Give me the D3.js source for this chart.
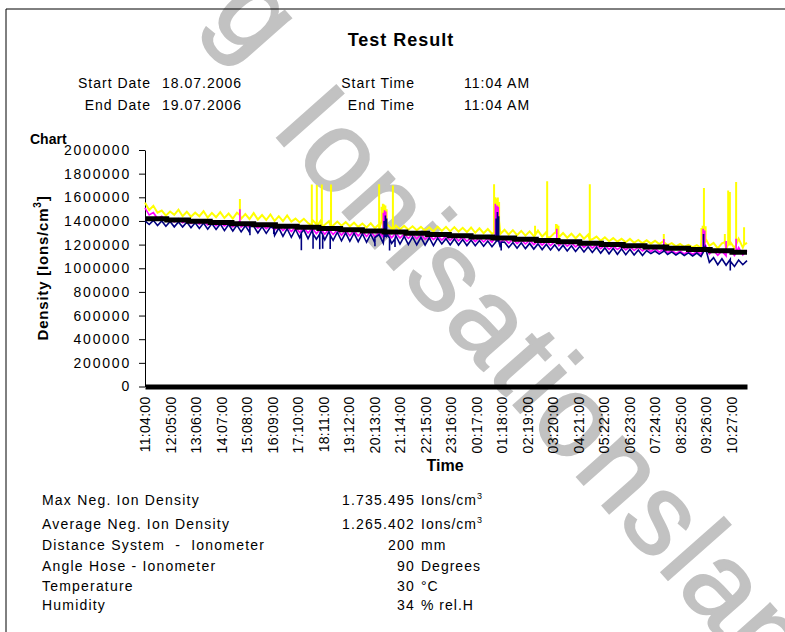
<!DOCTYPE html>
<html>
<head>
<meta charset="utf-8">
<script src="https://cdn.jsdelivr.net/npm/d3@7"></script>
<style>
body { margin: 0; background: #fff; }
svg text { font-family: Arial, "Liberation Sans", sans-serif; fill: #000; white-space: pre; }
</style>
</head>
<body>
<svg id="chart" width="785" height="632"></svg>
<script>
// series are sampled every 10 minutes from 11:04 (values in thousand ions/cm3)
var sampleStep = 10;

var yellowVals = [
  1555,1492,1528,1470,1488,1445,1480,1452,1495,1440,
  1478,1436,1470,1440,1482,1428,1468,1432,1475,1425,
  1462,1420,1470,1418,1458,1415,1466,1412,1450,1408,
  1455,1400,1440,1398,1446,1395,1420,1388,1418,1382,
  1410,1372,1402,1368,1398,1362,1395,1360,1390,1355,
  1385,1350,1378,1345,1380,1340,1372,1338,1368,1335,
  1362,1330,1358,1326,1355,1322,1350,1318,1346,1312,
  1352,1316,1350,1312,1348,1310,1342,1306,1345,1300,
  1338,1296,1332,1292,1330,1290,1325,1285,1322,1280,
  1316,1276,1312,1272,1318,1268,1306,1265,1300,1262,
  1298,1258,1292,1254,1290,1250,1284,1245,1268,1232,
  1262,1228,1255,1225,1250,1220,1248,1216,1240,1212,
  1236,1208,1232,1204,1228,1196,1212,1186,1205,1182,
  1198,1176,1195,1172,1230,1190,1215,1168,1210,1165,
  1222,1170,1250,1175,1215
];
var magentaVals = [
  1510,1450,1470,1420,1440,1400,1415,1392,1420,1385,
  1405,1378,1400,1372,1396,1365,1392,1360,1388,1358,
  1384,1350,1380,1348,1375,1344,1372,1338,1368,1335,
  1362,1322,1360,1318,1352,1310,1348,1302,1345,1298,
  1340,1292,1335,1288,1330,1285,1325,1280,1322,1276,
  1318,1272,1312,1268,1310,1265,1305,1262,1300,1258,
  1298,1255,1290,1252,1288,1248,1285,1245,1280,1242,
  1276,1238,1272,1235,1270,1232,1265,1228,1262,1225,
  1258,1222,1255,1220,1252,1216,1248,1212,1245,1208,
  1240,1205,1236,1200,1232,1196,1228,1192,1225,1190,
  1220,1186,1215,1180,1210,1176,1205,1170,1200,1165,
  1195,1160,1190,1158,1186,1155,1182,1150,1178,1146,
  1172,1140,1168,1136,1160,1132,1150,1125,1145,1122,
  1140,1118,1138,1120,1200,1120,1150,1110,1145,1105,
  1155,1108,1175,1112,1150
];
var navyVals = [
  1400,1370,1405,1362,1400,1355,1395,1350,1392,1348,
  1390,1342,1385,1336,1382,1330,1378,1328,1375,1318,
  1370,1315,1365,1308,1360,1305,1356,1298,1352,1295,
  1348,1278,1340,1270,1335,1262,1330,1258,1325,1250,
  1322,1245,1315,1240,1310,1236,1305,1232,1300,1228,
  1296,1225,1292,1220,1288,1215,1285,1212,1280,1210,
  1275,1205,1270,1200,1265,1198,1262,1195,1258,1192,
  1255,1205,1250,1198,1248,1196,1242,1192,1238,1190,
  1235,1186,1230,1182,1226,1178,1222,1175,1218,1170,
  1215,1166,1210,1162,1206,1158,1202,1154,1198,1150,
  1195,1146,1190,1142,1186,1138,1182,1134,1178,1128,
  1172,1122,1168,1118,1164,1115,1160,1112,1155,1108,
  1150,1124,1146,1120,1142,1116,1138,1112,1134,1108,
  1130,1104,1128,1100,1180,1050,1090,1030,1080,1025,
  1075,1015,1070,1030,1065
];

// short peaks between samples: [minute, level around it, peak]
var yellowSpikes = [[227,1450,1585],[399,1360,1708],[411,1355,1705],[423,1350,1708],[445,1345,1708],
  [560,1330,1710],[566,1400,1520],[569,1400,1545],[572,1400,1540],[575,1400,1530],[578,1380,1500],
  [593,1320,1700],[835,1300,1710],[838,1450,1600],[841,1450,1590],[844,1450,1598],[847,1400,1560],
  [933,1280,1360],[962,1260,1735],[983,1300,1375],[986,1300,1370],[989,1290,1360],
  [1064,1240,1710],[1241,1220,1290],[1331,1250,1340],[1334,1250,1360],[1337,1250,1678],
  [1341,1250,1355],[1387,1220,1290],[1395,1200,1658],[1399,1200,1645],[1414,1200,1729],
  [1433,1200,1347]];
var magentaSpikes = [[227,1400,1500],[570,1290,1470],[573,1290,1490],[576,1290,1480],
  [838,1260,1545],[842,1260,1530],[845,1260,1520],[985,1230,1333],[1241,1170,1248],
  [1335,1160,1333],[1339,1160,1320],[1390,1130,1230],[1414,1130,1250]];
var navySpikes = [[251,1360,1280],[308,1340,1290],[374,1300,1153],[402,1290,1165],[418,1290,1160],
  [425,1285,1165],[443,1280,1162],[550,1260,1185],[572,1270,1400],[575,1270,1447],[578,1270,1420],
  [585,1255,1150],[598,1250,1180],[840,1230,1420],[843,1230,1475],[846,1230,1440],[852,1220,1150],
  [1241,1150,1200],[1336,1140,1290],[1400,1060,980]];

// black reference line, one level every 52 minutes
var blackStep = 52;
var blackVals = [1418,1407,1398,1387,1377,1367,1356,1346,1337,1326,1316,1306,1296,1285,1275,
  1265,1255,1245,1234,1224,1212,1201,1190,1180,1169,1158,1147,1135];

var totalMinutes = 1440;
var tickStep = 61;
var tickLabels = ["11:04:00","12:05:00","13:06:00","14:07:00","15:08:00","16:09:00","17:10:00",
  "18:11:00","19:12:00","20:13:00","21:14:00","22:15:00","23:16:00","00:17:00","01:18:00",
  "02:19:00","03:20:00","04:21:00","05:22:00","06:23:00","07:24:00","08:25:00","09:26:00","10:27:00"];
var yTicks = [0,200000,400000,600000,800000,1000000,1200000,1400000,1600000,1800000,2000000];

var infoLeft = [["Start Date","18.07.2006"],["End Date","19.07.2006"]];
var infoRight = [["Start Time","11:04 AM"],["End Time","11:04 AM"]];

var statLabels = ["Max Neg. Ion Density","Average Neg. Ion Density","Distance System  -  Ionometer",
  "Angle Hose - Ionometer","Temperature","Humidity"];
var statValues = ["1.735.495","1.265.402","200","90","30","34"];
var statUnits = ["Ions/cm","Ions/cm","mm","Degrees","°C","% rel.H"];
var statSup = ["3","3","","","",""];

var svg = d3.select("#chart");

// watermark behind everything
var wmColor = "#c2c2c2";
[["g", "translate(208,16) rotate(48.5)", "0px"],
 ["Ionisationsland", "translate(270,130) rotate(48.5)", "3px"]].forEach(function(w) {
  svg.append("text")
    .attr("transform", w[1])
    .attr("font-size", 115)
    .style("fill", wmColor)
    .style("stroke", wmColor)
    .style("stroke-width", "2px")
    .style("letter-spacing", w[2])
    .text(w[0]);
});

// frame
svg.append("path")
  .attr("d", "M6,632V9H785")
  .attr("fill", "none")
  .attr("stroke", "#000")
  .attr("stroke-width", 1);

svg.append("text")
  .attr("x", 401).attr("y", 46)
  .attr("text-anchor", "middle")
  .attr("font-size", 18).attr("font-weight", "bold")
  .style("letter-spacing", "1px")
  .text("Test Result");

infoLeft.forEach(function(r, i) {
  var yy = 88 + i * 22;
  svg.append("text").attr("x", 151).attr("y", yy).attr("text-anchor", "end")
    .attr("font-size", 14).style("letter-spacing", "1px").text(r[0]);
  svg.append("text").attr("x", 162).attr("y", yy)
    .attr("font-size", 14).style("letter-spacing", "1px").text(r[1]);
});
infoRight.forEach(function(r, i) {
  var yy = 88 + i * 22;
  svg.append("text").attr("x", 415).attr("y", yy).attr("text-anchor", "end")
    .attr("font-size", 14).style("letter-spacing", "1px").text(r[0]);
  svg.append("text").attr("x", 464).attr("y", yy)
    .attr("font-size", 14).style("letter-spacing", "1px").text(r[1]);
});

var x = d3.scaleLinear().domain([0, totalMinutes]).range([145, 747]);
var y = d3.scaleLinear().domain([0, 2000000]).range([386.5, 150]);

svg.append("text")
  .attr("x", 30).attr("y", 144)
  .attr("font-size", 14).attr("font-weight", "bold")
  .text("Chart");

// y axis
var yAxis = svg.append("g")
  .attr("transform", "translate(145,0)")
  .call(d3.axisLeft(y).tickValues(yTicks).tickSize(6).tickSizeOuter(0).tickPadding(8)
    .tickFormat(d3.format("d")));
yAxis.selectAll("text")
  .attr("font-size", 14)
  .attr("font-family", "Arial, 'Liberation Sans', sans-serif")
  .style("letter-spacing", "1.8px");
yAxis.select(".domain").attr("stroke", "#000");

var yTitle = svg.append("text")
  .attr("transform", "translate(48,268) rotate(-90)")
  .attr("text-anchor", "middle")
  .attr("font-size", 15).attr("font-weight", "bold")
  .style("letter-spacing", "0.8px");
yTitle.append("tspan").text("Density [Ions/cm");
yTitle.append("tspan").attr("dy", -7).attr("font-size", 10).text("3");
yTitle.append("tspan").attr("dy", 7).text("]");

// series: samples plus thin vertical peaks
function buildSeries(vals, spikes) {
  var pts = vals.map(function(v, i) { return { t: i * sampleStep, v: v * 1000, o: 0 }; });
  spikes.forEach(function(s) {
    pts.push({ t: s[0], v: s[1] * 1000, o: 1 });
    pts.push({ t: s[0], v: s[2] * 1000, o: 2 });
    pts.push({ t: s[0], v: s[1] * 1000, o: 3 });
  });
  pts.sort(function(a, b) { return a.t - b.t || a.o - b.o; });
  return pts;
}

var line = d3.line()
  .x(function(d) { return x(d.t); })
  .y(function(d) { return y(d.v); });

var series = [
  { pts: buildSeries(yellowVals, yellowSpikes), color: "#ffff00", width: 2 },
  { pts: buildSeries(magentaVals, magentaSpikes), color: "#ff00ff", width: 1.6 },
  { pts: buildSeries(navyVals, navySpikes), color: "#000080", width: 1.6 }
];

svg.selectAll(".series")
  .data(series)
  .enter().append("path")
  .attr("class", "series")
  .attr("fill", "none")
  .attr("stroke", function(d) { return d.color; })
  .attr("stroke-width", function(d) { return d.width; })
  .attr("stroke-linejoin", "miter")
  .attr("d", function(d) { return line(d.pts); });

var blackPts = blackVals.map(function(v, i) { return { t: i * blackStep, v: v * 1000 }; });
blackPts.push({ t: totalMinutes, v: blackVals[blackVals.length - 1] * 1000 });

svg.append("path")
  .attr("fill", "none")
  .attr("stroke", "#000")
  .attr("stroke-width", 5)
  .attr("d", d3.line().curve(d3.curveStepAfter)
    .x(function(d) { return x(d.t); })
    .y(function(d) { return y(d.v); })(blackPts));

// x axis (thick baseline)
var tickMinutes = tickLabels.map(function(l, i) { return i * tickStep; });
var xAxis = svg.append("g")
  .attr("transform", "translate(0," + y(0) + ")")
  .call(d3.axisBottom(x).tickValues(tickMinutes).tickSize(0).tickSizeOuter(0)
    .tickFormat(function(d, i) { return tickLabels[i]; }));
xAxis.select(".domain").attr("stroke", "#000").attr("stroke-width", 5);
xAxis.selectAll("text")
  .attr("transform", "rotate(-90)")
  .attr("x", -10).attr("y", 0).attr("dy", "0.35em")
  .attr("text-anchor", "end")
  .attr("font-size", 14)
  .attr("font-family", "Arial, 'Liberation Sans', sans-serif")
  .style("letter-spacing", "0.3px");

svg.append("text")
  .attr("x", 445).attr("y", 471)
  .attr("text-anchor", "middle")
  .attr("font-size", 16).attr("font-weight", "bold")
  .text("Time");

// statistics block
var statY = [505, 529, 550, 571, 591, 610];
statLabels.forEach(function(l, i) {
  svg.append("text").attr("x", 42).attr("y", statY[i])
    .attr("font-size", 14).style("letter-spacing", "1.2px").text(l);
  svg.append("text").attr("x", 415).attr("y", statY[i]).attr("text-anchor", "end")
    .attr("font-size", 14).style("letter-spacing", "1.2px").text(statValues[i]);
  var u = svg.append("text").attr("x", 421).attr("y", statY[i])
    .attr("font-size", 14).style("letter-spacing", "1px");
  u.append("tspan").text(statUnits[i]);
  if (statSup[i]) u.append("tspan").attr("dy", -6).attr("font-size", 9).text(statSup[i]);
});
</script>
</body>
</html>
